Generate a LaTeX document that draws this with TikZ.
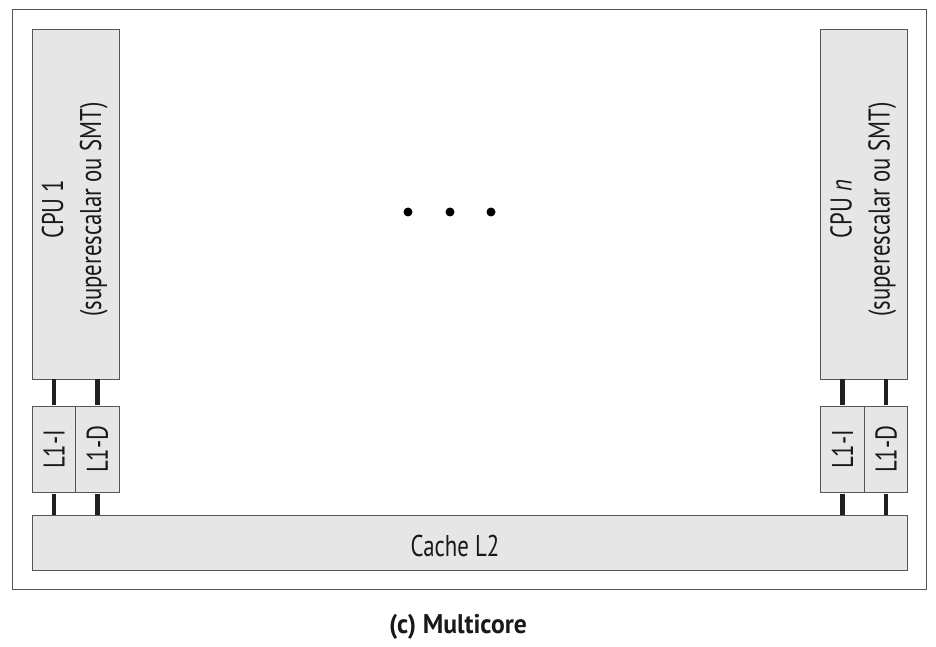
\documentclass[tikz,border=0pt]{standalone}
\usepackage{fontspec}
\setmainfont{PT Sans}[FakeStretch=0.76]
\newfontfamily\capfont{PT Sans}[FakeStretch=0.95]
\usetikzlibrary{calc}
\definecolor{boxfill}{HTML}{E6E6E6}
\definecolor{boxline}{HTML}{555555}
\definecolor{wire}{HTML}{231F20}
\tikzset{
  unitbox/.style={draw=boxline, line width=1.4pt, fill=boxfill, inner sep=0pt, anchor=south west},
  vlabel/.style={rotate=90, align=center, font=\fontsize{30}{38}\selectfont, text=black!90},
  wirestyle/.style={draw=wire, line width=4.3pt},
}
\begin{document}
\begin{tikzpicture}[x=1pt,y=1pt]
\useasboundingbox (0,0) rectangle (936,646);
% outer frame
\node[draw=boxline, line width=1.4pt, fill=white, minimum width=914pt, minimum height=579.5pt, inner sep=0pt, anchor=south west] (frame) at (11.5,56) {};
% left core
\node[unitbox, minimum width=87pt, minimum height=350pt] (cpu1) at (31.5,266) {};
\node[vlabel] (cpu1t) at ($(cpu1.center)+(-1,-5)$) {CPU 1\\(superescalar ou SMT)};
\node[unitbox, minimum width=43.5pt, minimum height=86pt] (l1i1) at (31.5,153) {};
\node[unitbox, minimum width=43.5pt, minimum height=86pt] (l1d1) at (75,153) {};
\node[vlabel] at (l1i1.center) {L1-I};
\node[vlabel] at (l1d1.center) {L1-D};
% right core
\node[unitbox, minimum width=87pt, minimum height=350pt] (cpun) at (820,266) {};
\node[vlabel] (cpunt) at ($(cpun.center)+(-1,-5)$) {CPU \textit{n}\\(superescalar ou SMT)};
\node[unitbox, minimum width=43.5pt, minimum height=86pt] (l1in) at (820,153) {};
\node[unitbox, minimum width=43.5pt, minimum height=86pt] (l1dn) at (863.5,153) {};
\node[vlabel] at (l1in.center) {L1-I};
\node[vlabel] at (l1dn.center) {L1-D};
% cache L2
\node[unitbox, minimum width=875.5pt, minimum height=55pt] (l2) at (31.5,75) {};
\node[font=\fontsize{30}{36}\selectfont, text=black!90] (l2t) at ($(l2.center)+(-15,-3)$) {Cache L2};
% wires
\foreach \b in {l1i1,l1d1,l1in,l1dn}{
  \path[wirestyle] ($(\b.north)+(0,0.7)$) -- ($(\b.north)+(0,26.3)$);
  \path[wirestyle] ($(\b.south)+(0,-0.7)$) -- ($(\b.south)+(0,-22.3)$);
}
% dots
\foreach \x/\n in {408/d1,450/d2,491/d3}{
  \fill[black] (\x,434) circle (4.5pt) coordinate (\n);
}
% caption
\node[font=\fontsize{27}{32}\capfont\bfseries, text=black!90] (caption) at (458,19) {(c) Multicore};
\end{tikzpicture}
\end{document}
